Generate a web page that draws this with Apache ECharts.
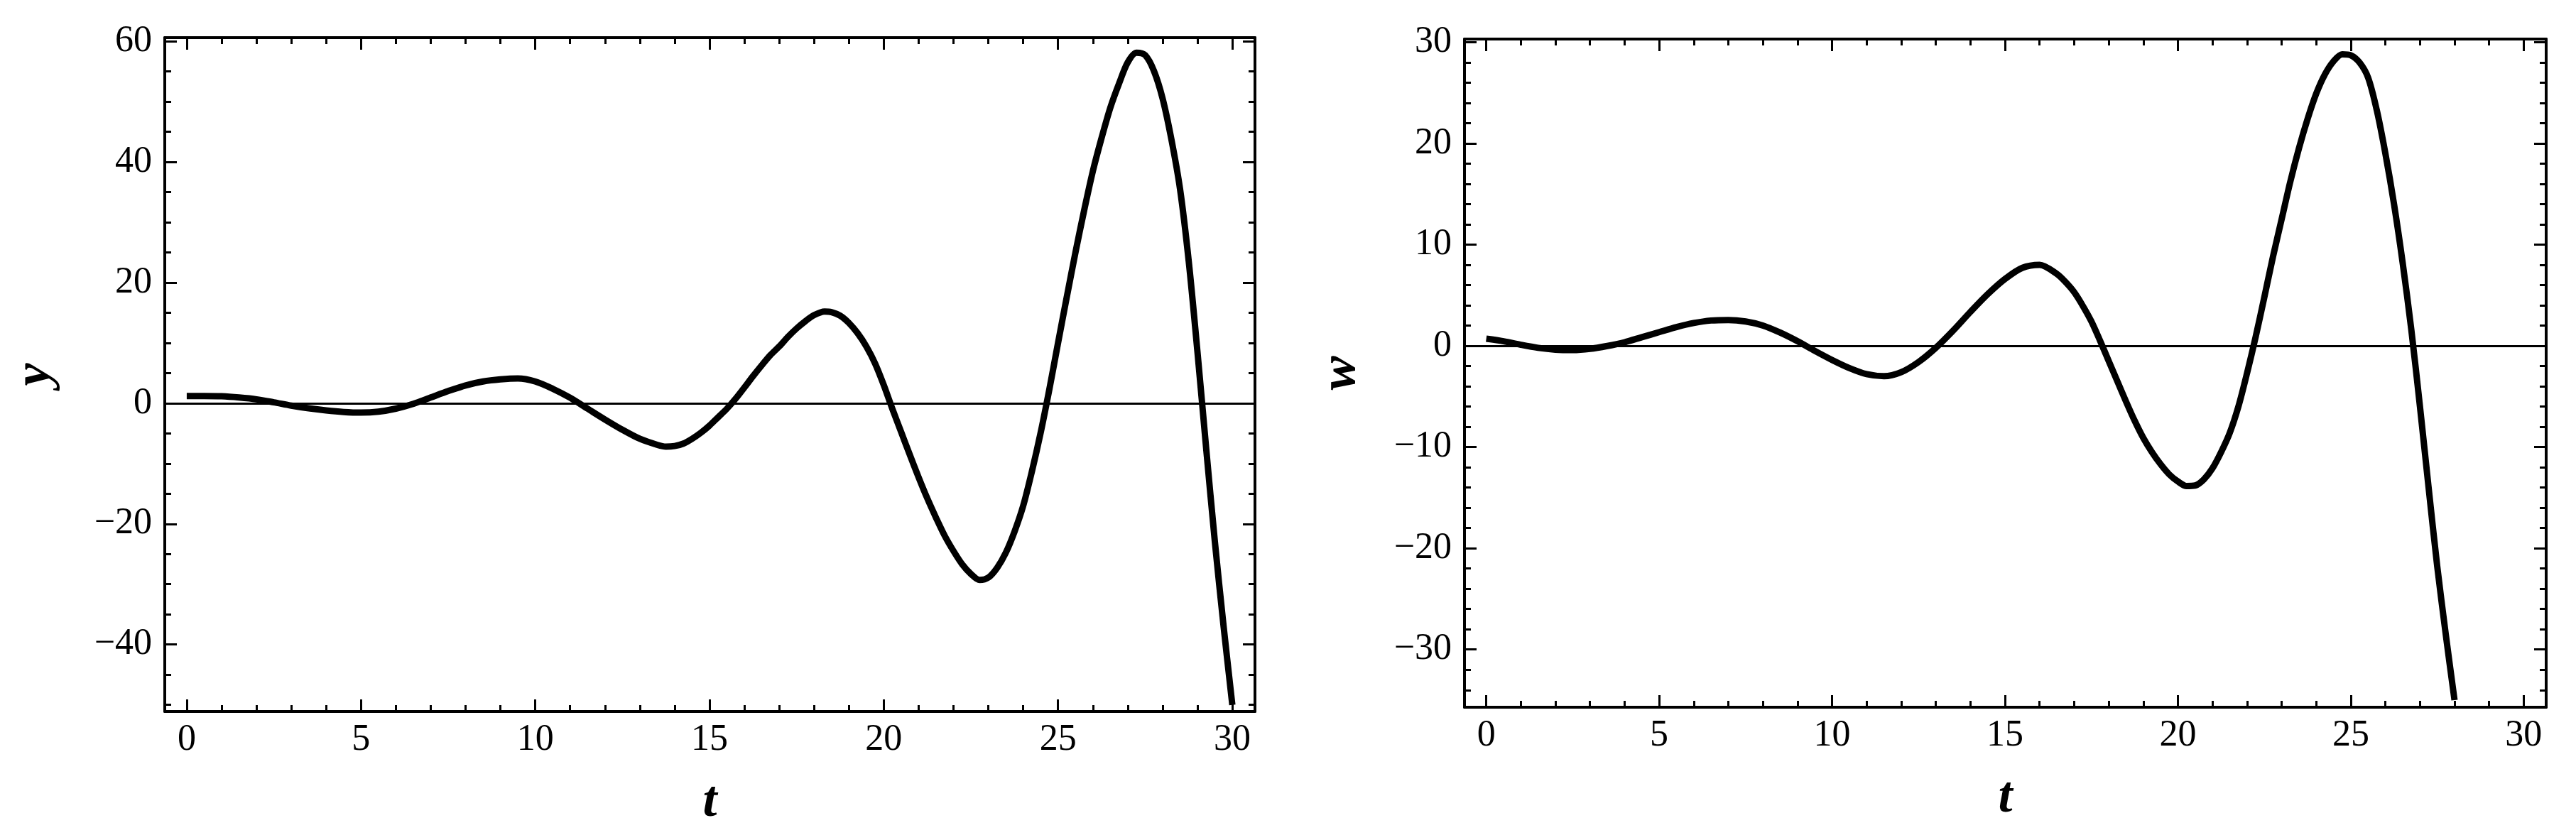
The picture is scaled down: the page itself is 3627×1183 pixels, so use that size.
<!DOCTYPE html>
<html><head><meta charset="utf-8">
<script src="https://cdn.jsdelivr.net/npm/echarts@6/dist/echarts.min.js"></script>
<style>html,body{margin:0;padding:0;background:#fff}#c{width:3627px;height:1183px}</style>
</head><body><div id="c"></div>
<script>
// Left panel: y(t)
const tY = [0,0.5,1,1.5,2,2.5,3,3.5,4,4.5,5,5.5,6,6.5,7,7.5,8,8.5,9,9.5,10,10.5,11,11.5,12,12.5,13,13.5,13.75,14,14.25,14.5,14.75,15,15.25,15.5,15.75,16,16.25,16.5,16.75,17,17.25,17.5,17.75,18,18.3,18.5,18.75,19,19.25,19.5,19.75,20,20.25,20.5,20.75,21,21.25,21.5,21.75,22,22.25,22.5,22.75,23,23.25,23.5,23.75,24,24.25,24.5,24.75,25,25.25,25.5,25.75,26,26.25,26.5,26.75,27,27.25,27.5,27.75,28,28.25,28.5,28.75,29,29.25,29.5,29.75,30];
const yVals = [1.2,1.2,1.15,0.95,0.65,0.15,-0.4,-0.85,-1.2,-1.45,-1.55,-1.4,-0.9,-0.1,0.95,2.0,2.95,3.6,3.95,4.1,3.6,2.4,0.9,-0.9,-2.7,-4.4,-5.9,-6.9,-7.2,-7.1,-6.7,-5.9,-4.9,-3.7,-2.3,-0.9,0.75,2.6,4.5,6.3,8.0,9.4,11.0,12.4,13.6,14.6,15.2,15.1,14.5,13.3,11.6,9.4,6.6,3.0,-1.0,-4.8,-8.6,-12.3,-15.8,-19.0,-22.0,-24.5,-26.7,-28.3,-29.3,-28.9,-27.3,-24.8,-21.3,-17.0,-11.3,-4.9,2.3,10.0,17.6,25.0,32.0,38.5,44.0,49.0,53.0,56.5,58.1,57.7,55.1,50.5,43.8,35.5,23.5,8.5,-7.5,-23.0,-37.0,-50.0];
// Right panel: w(t)
const tW = [0,0.5,1,1.5,2,2.5,3,3.5,4,4.5,5,5.5,6,6.5,7,7.5,8,8.5,9,9.5,10,10.5,11,11.5,12,12.5,13,13.5,14,14.5,15,15.5,16,16.5,16.75,17,17.25,17.5,17.75,18,18.25,18.5,18.75,19,19.25,19.5,19.75,20,20.25,20.5,20.75,21,21.25,21.5,21.75,22,22.25,22.5,22.75,23,23.25,23.5,23.75,24,24.25,24.5,24.75,25,25.25,25.5,25.75,26,26.25,26.5,26.75,27,27.25,27.5,27.75,28];
const wVals = [0.7,0.45,0.1,-0.2,-0.38,-0.42,-0.3,-0.02,0.35,0.85,1.35,1.85,2.25,2.5,2.55,2.4,2.0,1.3,0.45,-0.5,-1.4,-2.2,-2.8,-3.0,-2.6,-1.6,-0.2,1.5,3.35,5.1,6.6,7.7,8.0,7.1,6.3,5.3,3.95,2.4,0.5,-1.5,-3.5,-5.5,-7.4,-9.1,-10.5,-11.7,-12.7,-13.4,-13.85,-13.8,-13.2,-12.1,-10.5,-8.6,-6.0,-2.7,0.9,4.8,8.8,12.5,16.2,19.5,22.4,24.9,26.8,28.1,28.8,28.7,28.0,26.5,23.3,19.0,14.0,8.2,1.6,-6.0,-14.0,-21.8,-28.6,-35.0];

// Tick values
const xMajor = [0,5,10,15,20,25,30];
const xMinor = [0,1,2,3,4,5,6,7,8,9,10,11,12,13,14,15,16,17,18,19,20,21,22,23,24,25,26,27,28,29,30];
const yMajorL = [-40,-20,0,20,40,60];
const yMinorL = [-50,-45,-40,-35,-30,-25,-20,-15,-10,-5,0,5,10,15,20,25,30,35,40,45,50,55,60];
const yMajorR = [-30,-20,-10,0,10,20,30];
const yMinorR = [-34,-32,-30,-28,-26,-24,-22,-20,-18,-16,-14,-12,-10,-8,-6,-4,-2,0,2,4,6,8,10,12,14,16,18,20,22,24,26,28,30];

const XMIN = -0.63, XMAX = 30.65;
const FONT = 'Liberation Serif';
const fmt = v => v < 0 ? '\u2212' + (-v) : String(v);

function axis(kind, grid, pos, min, max, vals, len, opts) {
  opts = opts || {};
  const a = {
    type: 'value', gridIndex: grid, position: pos, min: min, max: max,
    axisLine: {show: !!opts.line, onZero: false, lineStyle: {color: '#000', width: 4}},
    axisTick: {show: true, inside: true, length: len, customValues: vals, lineStyle: {color: '#000', width: 3}},
    axisLabel: {show: !!opts.label, customValues: vals, formatter: fmt, color: '#000',
      fontFamily: FONT, fontSize: 52, margin: kind === 'x' ? 14 : 18},
    splitLine: {show: false}, minorTick: {show: false}
  };
  if (opts.name) {
    a.name = opts.name;
    a.nameLocation = 'middle';
    a.nameGap = opts.gap;
    a.nameTextStyle = {fontFamily: FONT, fontSize: 72, fontWeight: 'bold', fontStyle: 'italic', color: '#000'};
  }
  return a;
}

const grids = [
  {left: 232, top: 53, width: 1535, height: 949},
  {left: 2062, top: 55, width: 1523, height: 941}
];
const yr = [[-51.1, 60.6], [-35.7, 30.3]];
const yMaj = [yMajorL, yMajorR], yMin = [yMinorL, yMinorR];
const yNames = ['y', 'w'];
const yGaps = [146, 138];

const xAxis = [], yAxis = [];
for (let g = 0; g < 2; g++) {
  xAxis.push(axis('x', g, 'bottom', XMIN, XMAX, xMajor, 17, {line: true, label: true, name: 't', gap: 92}));
  xAxis.push(axis('x', g, 'bottom', XMIN, XMAX, xMinor, 9));
  xAxis.push(axis('x', g, 'top', XMIN, XMAX, xMajor, 17, {line: true}));
  xAxis.push(axis('x', g, 'top', XMIN, XMAX, xMinor, 9));
  yAxis.push(axis('y', g, 'left', yr[g][0], yr[g][1], yMaj[g], 17, {line: true, label: true, name: yNames[g], gap: yGaps[g]}));
  yAxis.push(axis('y', g, 'left', yr[g][0], yr[g][1], yMin[g], 9));
  yAxis.push(axis('y', g, 'right', yr[g][0], yr[g][1], yMaj[g], 17, {line: true}));
  yAxis.push(axis('y', g, 'right', yr[g][0], yr[g][1], yMin[g], 9));
}

function curve(g, ts, vs) {
  return {
    type: 'line', xAxisIndex: g * 4, yAxisIndex: g * 4,
    data: ts.map((t, i) => [t, vs[i]]),
    showSymbol: false, smooth: 0.3, clip: true,
    lineStyle: {color: '#000', width: 9, join: 'round', cap: 'butt'},
    markLine: {silent: true, symbol: 'none', label: {show: false},
      lineStyle: {color: '#000', width: 3, type: 'solid'}, data: [{yAxis: 0}]}
  };
}

const chart = echarts.init(document.getElementById('c'));
chart.setOption({
  animation: false, backgroundColor: '#fff',
  grid: grids, xAxis: xAxis, yAxis: yAxis,
  series: [curve(0, tY, yVals), curve(1, tW, wVals)]
});
</script></body></html>
